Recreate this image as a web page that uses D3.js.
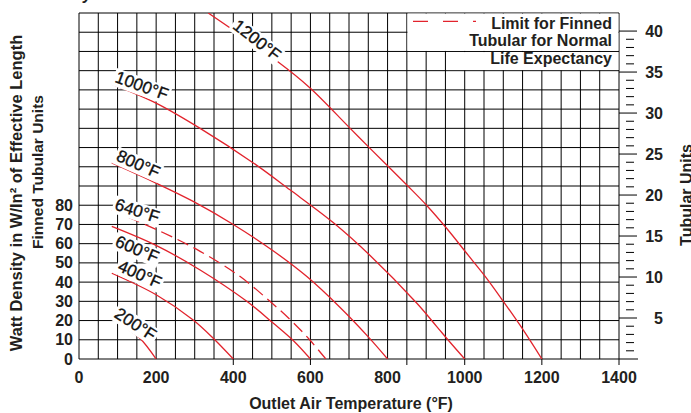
<!DOCTYPE html>
<html>
<head>
<meta charset="utf-8">
<script src="https://cdn.jsdelivr.net/npm/d3@7"></script>
<style>
  html, body { margin: 0; padding: 0; background: #fff; }
  svg { display: block; font-family: "Liberation Sans", Arial, sans-serif; }
</style>
</head>
<body>
<div id="chart"></div>
<script>
// Watt density vs outlet air temperature, one curve per sheath temperature

// === data ===
const tempTicks = [0, 200, 400, 600, 800, 1000, 1200, 1400];
const wattTicks = [0, 10, 20, 30, 40, 50, 60, 70, 80];
const unitTicks = [5, 10, 15, 20, 25, 30, 35, 40];
const tempTickMarks = [400, 600, 850, 1000, 1200, 1400]; // the short ticks under the axis

// [outlet air °F, W/in²]
const curve200  = [[85, 21.5], [124, 16], [158, 10.8], [200, 0]];
const curve400  = [[85, 44.6], [201, 33.3], [296, 20.3], [348, 10.8], [400, 0]];
const curve600  = [[85, 69], [201, 59], [314, 46.3], [435, 30], [504, 18.6], [556, 9.5], [600, 0]];
const curve640  = [[85, 77.5], [210, 66.5], [314, 56], [417, 43], [495, 30], [550, 20], [598, 10], [640, 0]];
const curve800  = [[85, 102], [200, 91.5], [296, 82], [400, 70], [504, 56.2], [590, 43], [677, 26.8], [750, 11.5], [800, 0]];
const curve1000 = [[85, 143], [201, 133], [314, 120], [452, 102], [547, 88], [659, 71], [754, 54], [876, 29], [927, 17], [962, 8.7], [1000, 0]];
const curve1200 = [[335, 180], [513, 155], [599, 141], [698, 121], [750, 110.5], [850, 90.5], [901, 80], [953, 68], [1005, 55], [1053, 43], [1100, 30], [1152, 15], [1200, 0]];

const sheathNames = ["200°F", "400°F", "600°F", "640°F", "800°F", "1000°F", "1200°F"];
const sheathCurves = [curve200, curve400, curve600, curve640, curve800, curve1000, curve1200];
// label anchor in data units + tilt
const labelAt    = [[147, 18.2], [158, 44.2], [151, 57.2], [151, 77.2], [154, 101.5], [163, 142.2], [462, 166]];
const labelTilt  = [33, 24, 23, 18, 24, 20, 38];

const legendLines = ["Limit for Finned", "Tubular for Normal", "Life Expectancy"];

// === sizing ===
const W = 691, H = 413;
const ink = "#231f20";
const red = "#e2232c";

const svg = d3.select("#chart").append("svg")
  .attr("width", W).attr("height", H);

const x = d3.scaleLinear().domain([0, 1400]).range([79, 619]);
const y = d3.scaleLinear().domain([0, 180]).range([359, 13]);
const yUnits = d3.scaleLinear().domain([0, 180 / 4.265]).range([359, 13]);

// cut-off heading above the plot
svg.append("text")
  .attr("x", 92).attr("y", 0)
  .attr("text-anchor", "end")
  .attr("font-size", 16).attr("font-weight", "bold").attr("font-style", "italic")
  .attr("fill", ink)
  .text("Watt Density");

// === grid ===
const grid = svg.append("g").attr("stroke", "#000").attr("stroke-width", 1);
grid.selectAll("line.v").data(d3.range(0, 1401, 50)).join("line")
  .attr("class", "v")
  .attr("x1", d => x(d)).attr("x2", d => x(d))
  .attr("y1", y(0)).attr("y2", y(180));
grid.selectAll("line.h").data(d3.range(0, 181, 10)).join("line")
  .attr("class", "h")
  .attr("x1", x(0)).attr("x2", x(1400))
  .attr("y1", d => y(d)).attr("y2", d => y(d));

// short ticks hanging under the bottom edge
grid.selectAll("line.t").data(tempTickMarks).join("line")
  .attr("class", "t")
  .attr("x1", d => x(d)).attr("x2", d => x(d))
  .attr("y1", y(0)).attr("y2", y(0) + 6);

// legend box blanks out part of the grid
svg.append("rect")
  .attr("x", x(850) + 0.6).attr("y", y(180) + 0.6)
  .attr("width", x(1400) - x(850) - 1.2).attr("height", y(160) - y(180) - 1.1)
  .attr("fill", "#fff");
svg.append("rect")
  .attr("x", x(950) + 0.6).attr("y", y(160) + 0.6)
  .attr("width", x(1400) - x(950) - 1.2).attr("height", y(150) - y(160) - 1.2)
  .attr("fill", "#fff");

// === right scale (tubular units) ===
const right = svg.append("g").attr("stroke", "#000").attr("stroke-width", 1);
right.append("line")
  .attr("x1", x(1400)).attr("x2", x(1400) + 19)
  .attr("y1", y(0)).attr("y2", y(0));
right.selectAll("line.maj").data(unitTicks).join("line")
  .attr("class", "maj")
  .attr("x1", x(1400)).attr("x2", x(1400) + 18)
  .attr("y1", d => yUnits(d)).attr("y2", d => yUnits(d));
right.selectAll("line.min").data(d3.range(1, 40).filter(d => d % 5 !== 0)).join("line")
  .attr("class", "min")
  .attr("x1", x(1400) + 7).attr("x2", x(1400) + 15)
  .attr("y1", d => yUnits(d)).attr("y2", d => yUnits(d));

svg.append("g").selectAll("text").data(unitTicks).join("text")
  .attr("x", 663).attr("y", d => yUnits(d))
  .attr("dy", "0.35em")
  .attr("text-anchor", "end")
  .attr("font-size", 16).attr("font-weight", "bold").attr("fill", ink)
  .text(d => d);

// === tick labels ===
svg.append("g").selectAll("text").data(wattTicks).join("text")
  .attr("x", 73).attr("y", d => y(d))
  .attr("dy", "0.35em")
  .attr("text-anchor", "end")
  .attr("font-size", 16).attr("font-weight", "bold").attr("fill", ink)
  .text(d => d);

svg.append("g").selectAll("text").data(tempTicks).join("text")
  .attr("x", d => x(d)).attr("y", 383)
  .attr("text-anchor", "middle")
  .attr("font-size", 16).attr("font-weight", "bold").attr("fill", ink)
  .text(d => d);

// === axis titles ===
svg.append("text")
  .attr("x", (x(0) + x(1400)) / 2 + 2).attr("y", 409)
  .attr("text-anchor", "middle")
  .attr("font-size", 16).attr("font-weight", "bold").attr("fill", ink)
  .text("Outlet Air Temperature (°F)");

svg.append("text")
  .attr("transform", "translate(22,193) rotate(-90)")
  .attr("text-anchor", "middle")
  .attr("font-size", 16.5).attr("font-weight", "bold").attr("fill", ink)
  .text("Watt Density in W/In² of Effective Length");
svg.append("text")
  .attr("transform", "translate(42.5,172) rotate(-90)")
  .attr("text-anchor", "middle")
  .attr("font-size", 15.5).attr("font-weight", "bold").attr("fill", ink)
  .text("Finned Tubular Units");

svg.append("text")
  .attr("transform", "translate(692,195) rotate(-90)")
  .attr("text-anchor", "middle")
  .attr("font-size", 16).attr("font-weight", "bold").attr("fill", ink)
  .text("Tubular Units");

// === curves ===
svg.append("clipPath").attr("id", "plot")
  .append("rect")
  .attr("x", x(0)).attr("y", y(180))
  .attr("width", x(1400) - x(0)).attr("height", y(0) - y(180));

const line = d3.line()
  .x(d => x(d[0]))
  .y(d => y(d[1]))
  .curve(d3.curveCatmullRom.alpha(0.5));

svg.append("g").attr("clip-path", "url(#plot)")
  .selectAll("path").data(sheathCurves).join("path")
  .attr("fill", "none")
  .attr("stroke", red)
  .attr("stroke-width", 1.3)
  .attr("stroke-dasharray", (d, i) => sheathNames[i] === "640°F" ? "12,6" : null)
  .attr("d", line);

// curve labels, each on a white patch
const labels = svg.append("g").selectAll("g").data(sheathNames).join("g")
  .attr("transform", (d, i) => `translate(${x(labelAt[i][0])},${y(labelAt[i][1])}) rotate(${labelTilt[i]})`);

labels.append("text")
  .attr("text-anchor", "middle")
  .attr("dy", "0.35em")
  .attr("font-size", 17).attr("fill", "#111")
  .attr("stroke", "#111").attr("stroke-width", 0.35)
  .text(d => d);

labels.each(function () {
  const g = d3.select(this);
  const b = g.select("text").node().getBBox();
  g.insert("rect", "text")
    .attr("x", b.x - 2).attr("y", b.y + 1)
    .attr("width", b.width + 4).attr("height", b.height - 1)
    .attr("fill", "#fff");
});

// === legend ===
svg.append("line")
  .attr("x1", 413).attr("x2", 476)
  .attr("y1", 21.3).attr("y2", 21.3)
  .attr("stroke", red).attr("stroke-width", 1.3)
  .attr("stroke-dasharray", "15,15");

svg.append("g").selectAll("text").data(legendLines).join("text")
  .attr("x", 612).attr("y", (d, i) => 28.7 + i * 17.6)
  .attr("text-anchor", "end")
  .attr("font-size", 16).attr("font-weight", "bold").attr("fill", ink)
  .text(d => d);
</script>
</body>
</html>
